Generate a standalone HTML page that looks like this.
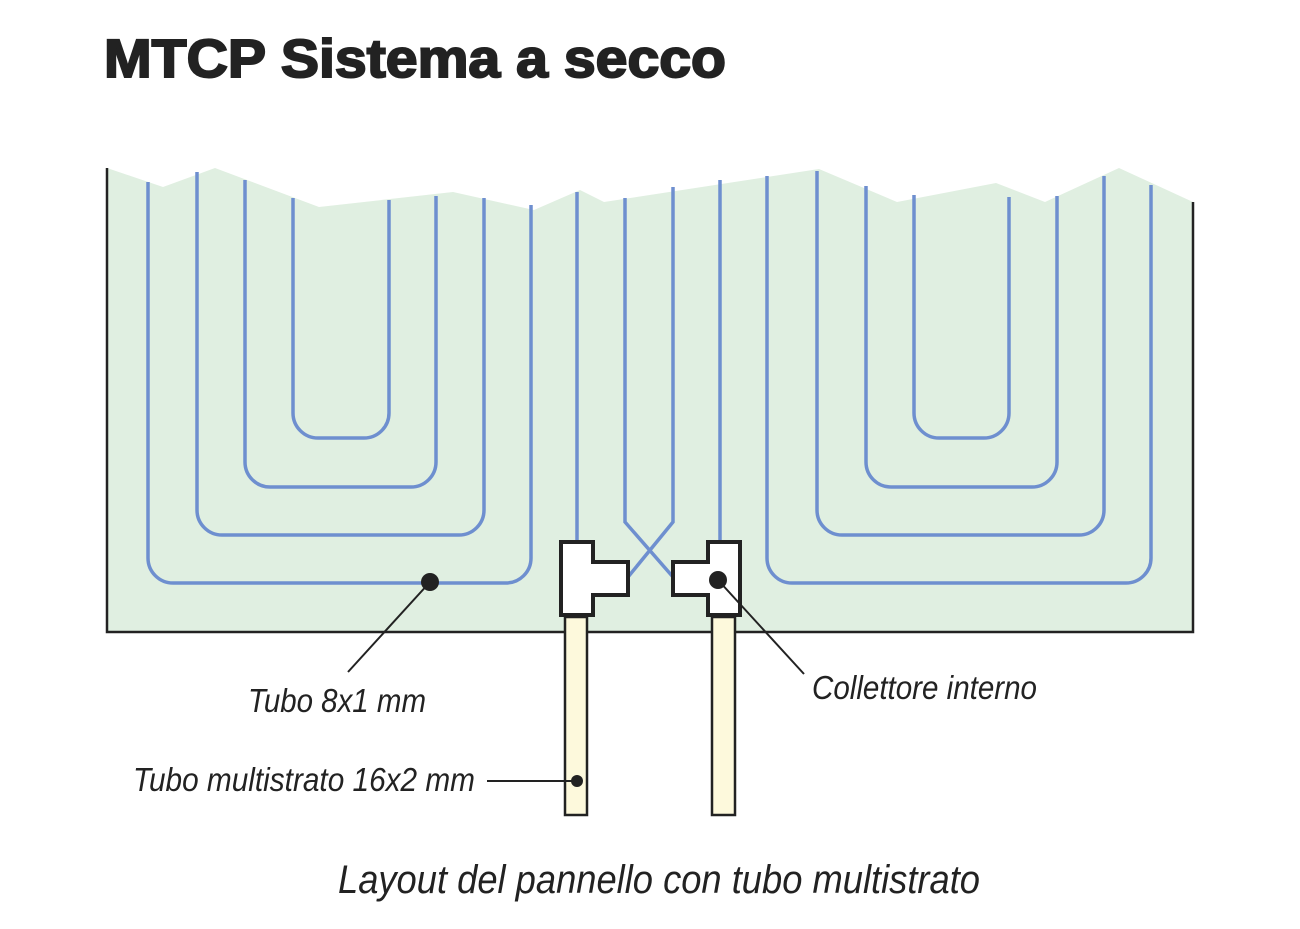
<!DOCTYPE html>
<html><head><meta charset="utf-8"><style>html,body{margin:0;padding:0;background:#fff;}svg{display:block}</style></head>
<body>
<svg width="1300" height="929" viewBox="0 0 1300 929" xmlns="http://www.w3.org/2000/svg">
<rect width="1300" height="929" fill="#fff"/>
<text x="104" y="77" font-family="Liberation Sans, sans-serif" font-weight="bold" font-size="54" fill="#222" stroke="#222" stroke-width="2" textLength="622" lengthAdjust="spacingAndGlyphs">MTCP Sistema a secco</text>
<polygon points="107,168 163,187 215,168 319,207 453,192 534,210 580,190 604,202 819,169 897,202 996,183 1045,202 1119,168 1193,202 1193,632 107,632" fill="#e0efe1"/>
<g fill="none" stroke="#6e8fcf" stroke-width="3.5">
<path d="M148,182 V558 a25,25 0 0 0 25,25 H506 a25,25 0 0 0 25,-25 V205"/>
<path d="M197,172 V510 a25,25 0 0 0 25,25 H459 a25,25 0 0 0 25,-25 V198"/>
<path d="M245,180 V462 a25,25 0 0 0 25,25 H411 a25,25 0 0 0 25,-25 V196"/>
<path d="M293,198 V413 a25,25 0 0 0 25,25 H364 a25,25 0 0 0 25,-25 V200"/>
<path d="M577,192 V545"/>
<path d="M625,198 V522 L673,577"/>
<path d="M673,187 V522 L628,577"/>
<path d="M720,180 V545"/>
<path d="M767,176 V558 a25,25 0 0 0 25,25 H1126 a25,25 0 0 0 25,-25 V185"/>
<path d="M817,171 V510 a25,25 0 0 0 25,25 H1079 a25,25 0 0 0 25,-25 V176"/>
<path d="M866,186 V462 a25,25 0 0 0 25,25 H1032 a25,25 0 0 0 25,-25 V196"/>
<path d="M914,195 V413 a25,25 0 0 0 25,25 H984 a25,25 0 0 0 25,-25 V197"/>
</g>
<g stroke="#222" stroke-width="2.5" fill="none">
<path d="M107,168 V632 H1193 V202"/>
</g>
<g stroke="#222" stroke-width="2.5" fill="#fdf9dc">
<rect x="565" y="617" width="22" height="198"/>
<rect x="712" y="617" width="23" height="198"/>
</g>
<g stroke="#222" stroke-width="4" fill="#fff" stroke-linejoin="miter">
<path d="M561,542 H593 V562 H628 V595 H593 V615 H561 Z"/>
<path d="M740,542 H708 V562 H673 V595 H708 V615 H740 Z"/>
</g>
<g stroke="#222" stroke-width="2" fill="none">
<line x1="430" y1="582" x2="348" y2="672"/>
<line x1="718" y1="580" x2="804" y2="674"/>
<line x1="487" y1="781" x2="574" y2="781"/>
</g>
<g fill="#222">
<circle cx="430" cy="582" r="9"/>
<circle cx="718" cy="580" r="9"/>
<circle cx="577" cy="781" r="6"/>
</g>
<g font-family="Liberation Sans, sans-serif" font-style="italic" fill="#222">
<text x="248" y="712" font-size="33" textLength="178" lengthAdjust="spacingAndGlyphs">Tubo 8x1 mm</text>
<text x="812" y="699" font-size="33" textLength="225" lengthAdjust="spacingAndGlyphs">Collettore interno</text>
<text x="133" y="791" font-size="33" textLength="342" lengthAdjust="spacingAndGlyphs">Tubo multistrato 16x2 mm</text>
<text x="338" y="893" font-size="40" textLength="642" lengthAdjust="spacingAndGlyphs">Layout del pannello con tubo multistrato</text>
</g>
</svg>
</body></html>
